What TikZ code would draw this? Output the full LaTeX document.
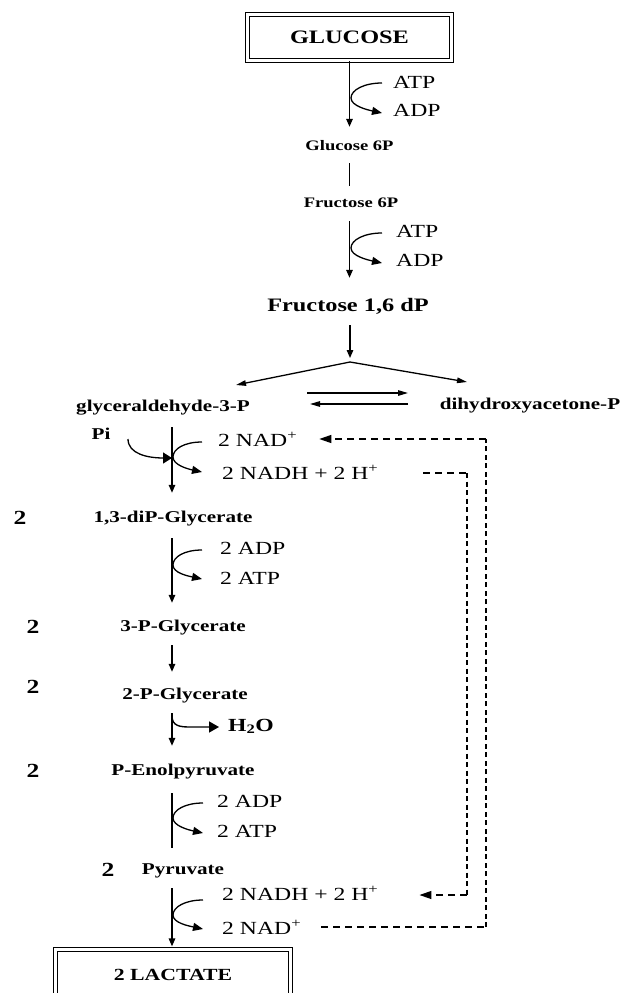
\documentclass[tikz,border=0pt]{standalone}
\usepackage{fontspec}
\setmainfont[FakeStretch=1.28]{Liberation Serif}
\usetikzlibrary{arrows.meta,calc}
\begin{document}
\begin{tikzpicture}[x=1pt,y=-1pt,
  ln/.style={line width=1.4pt},
  arr/.style={line width=1.4pt, -{Triangle[length=8pt,width=6.5pt]}},
  carc/.style={line width=1.3pt, -{Triangle[length=10pt,width=8pt]}},
  piarr/.style={line width=1.3pt, -{Triangle[length=9pt,width=11pt]}},
  eqarr/.style={line width=1.3pt, -{Triangle[length=10pt,width=5.5pt]}},
  hookarr/.style={line width=1.4pt, -{Triangle[length=10pt,width=11pt]}},
  dsh/.style={line width=1.2pt, dash pattern=on 7pt off 5pt},
  dshv/.style={line width=1.5pt, dash pattern=on 5pt off 3.5pt},
  dsharr/.style={dsh, -{Triangle[length=12pt,width=8pt]}},
  dblbox/.style={draw, line width=1.2pt, double, double distance=2.6pt, inner sep=0pt},
  smallname/.style={inner sep=0pt, text height=10pt, text depth=3pt, font=\bfseries\fontsize{14.5}{17}\selectfont},
  midname/.style={inner sep=0pt, text height=11.5pt, text depth=3.5pt, font=\bfseries\fontsize{16.5}{19}\selectfont},
  bigname/.style={inner sep=0pt, text height=13pt, text depth=4pt, font=\bfseries\fontsize{19}{22}\selectfont},
  cofac/.style={inner sep=0pt, anchor=west, text height=12.5pt, text depth=4pt, font=\fontsize{18.5}{21}\selectfont},
  bignum/.style={inner sep=0pt, font=\bfseries\fontsize{20}{23}\selectfont}]
\useasboundingbox (0,0) rectangle (627,993);
\clip (0,0) rectangle (627,993);

% ---------- nodes ----------
\node[dblbox, minimum width=204pt, minimum height=46pt, font=\bfseries\fontsize{19}{22}\selectfont] (glucose) at (349.5,37.5) {GLUCOSE};
\node[cofac] (atp1) at (393,84) {ATP};
\node[cofac] (adp1) at (393,112) {ADP};
\node[smallname] (g6p) at (349.5,147) {Glucose 6P};
\node[smallname] (f6p) at (351,204) {Fructose 6P};
\node[cofac] (atp2) at (396,233) {ATP};
\node[cofac] (adp2) at (396,262) {ADP};
\node[bigname] (fbp) at (348,307) {Fructose 1,6 dP};
\node[midname] (gap) at (163,407) {glyceraldehyde-3-P};
\node[midname] (dhap) at (530,405) {dihydroxyacetone-P};
\node[midname] (pi) at (101,435) {Pi};
\node[cofac] (nadA) at (218,442) {2 NAD\textsuperscript{+}};
\node[cofac] (nadhA) at (222,475) {2 NADH + 2 H\textsuperscript{+}};
\node[bignum] (n1) at (20,518) {2};
\node[midname] (bpg) at (173,518) {1,3-diP-Glycerate};
\node[cofac] (adp3) at (220,550) {2 ADP};
\node[cofac] (atp3) at (220,580) {2 ATP};
\node[bignum] (n2) at (33,627) {2};
\node[midname] (tpg) at (183,627) {3-P-Glycerate};
\node[bignum] (n3) at (33,687) {2};
\node[midname] (dpg) at (185,695) {2-P-Glycerate};
\node[midname, anchor=west, font=\bfseries\fontsize{18.5}{21}\selectfont] (h2o) at (228,727) {H\textsubscript{2}O};
\node[bignum] (n4) at (33,771) {2};
\node[midname] (pep) at (183,771) {P-Enolpyruvate};
\node[cofac] (adp4) at (217,803) {2 ADP};
\node[cofac] (atp4) at (217,833) {2 ATP};
\node[bignum] (n5) at (108,870) {2};
\node[midname] (pyr) at (183,870) {Pyruvate};
\node[cofac] (nadhB) at (222,896) {2 NADH + 2 H\textsuperscript{+}};
\node[cofac] (nadB) at (222,930) {2 NAD\textsuperscript{+}};
\node[dblbox, minimum width=235pt, minimum height=50pt, font=\bfseries\fontsize{17}{20}\selectfont] (lac) at (173,974.5) {2 LACTATE};

% ---------- helper coordinates ----------
\coordinate (ax) at (172,0);
\coordinate (branch) at (350,362);
\coordinate (gapIn) at (236,385);
\coordinate (dhapIn) at (467,382);
\coordinate (eq1) at (307,393);
\coordinate (eq2) at (408,393);
\coordinate (eq3) at (408,404);
\coordinate (eq4) at (310,404);
\coordinate (oX) at (486,0);
\coordinate (iX) at (467,0);

% ---------- upper pathway ----------
\draw[arr, shorten >=13.5pt] (glucose.south) -- (glucose.south |- g6p.north);
\draw[ln, shorten <=9.5pt, shorten >=11.5pt] (g6p.south) -- (g6p.south |- f6p.north);
\draw[arr, shorten <=10.5pt, shorten >=20.5pt] (f6p.south -| g6p) -- (fbp.north -| g6p);
\draw[arr, shorten <=9.5pt, shorten >=4pt] (fbp.south -| branch) -- (branch);
\draw[eqarr] (branch) -- (gapIn);
\draw[eqarr] (branch) -- (dhapIn);
\draw[eqarr] (eq1) -- (eq2);
\draw[eqarr] (eq3) -- (eq4);

% cofactor arcs, upper
\draw[carc] (382,83) .. controls +(-18,0) and +(0,-8) .. (351,98) .. controls +(0,8) and +(-14,-3) .. (382,113);
\draw[carc] (382,233) .. controls +(-18,0) and +(0,-8) .. (351,248) .. controls +(0,8) and +(-14,-3) .. (382,263);

% ---------- lower pathway ----------
\draw[arr, shorten <=12.5pt, shorten >=17.5pt] (gap.south -| ax) -- (bpg.north -| ax);
\draw[arr, shorten <=12.5pt, shorten >=16.5pt] (bpg.south -| ax) -- (tpg.north -| ax);
\draw[arr, shorten <=10.5pt, shorten >=15.5pt] (tpg.south -| ax) -- (dpg.north -| ax);
\draw[arr, shorten <=10.5pt, shorten >=17.5pt] (dpg.south -| ax) -- (pep.north -| ax);
\draw[ln, shorten <=14.5pt, shorten >=14.5pt] (pep.south -| ax) -- (pyr.north -| ax);
\draw[arr, shorten <=10.5pt, shorten >=2.5pt] (pyr.south -| ax) -- (lac.north -| ax);

% Pi input
\draw[piarr] (128,439) .. controls +(0,15) and +(-24,0) .. (172,458);
% cofactor arcs, lower
\draw[carc] (202,442) .. controls +(-18,0) and +(0,-8) .. (173,457) .. controls +(0,8) and +(-14,-3) .. (202,472);
\draw[carc] (202,550) .. controls +(-18,0) and +(0,-8) .. (173,565) .. controls +(0,8) and +(-14,-3) .. (202,579);
\draw[carc] (203,803) .. controls +(-18,0) and +(0,-8) .. (173,818) .. controls +(0,8) and +(-14,-3) .. (203,833);
\draw[carc] (203,900) .. controls +(-18,0) and +(0,-8) .. (173,915) .. controls +(0,8) and +(-14,-3) .. (203,929);
% water
\draw[hookarr, shorten >=9pt] (172,716) .. controls +(0,10) and +(-10,0) .. (190,727) -- (h2o.west);

% ---------- NAD recycling (dashed) ----------
\coordinate (oS) at ($(nadB.east)+(20,-3)$);
\coordinate (oE) at ($(nadA.east)+(22,-3)$);
\draw[dsh] (oS) -- (oS -| oX);
\draw[dshv] (oS -| oX) -- (oE -| oX);
\draw[dsharr] (oE -| oX) -- (oE);
\coordinate (iS) at ($(nadhA.east)+(45,-2)$);
\coordinate (iE) at ($(nadhB.east)+(41,-1)$);
\draw[dsh] (iS) -- (iS -| iX);
\draw[dshv] (iS -| iX) -- (iE -| iX);
\draw[dsharr] (iE -| iX) -- (iE);
\end{tikzpicture}
\end{document}
